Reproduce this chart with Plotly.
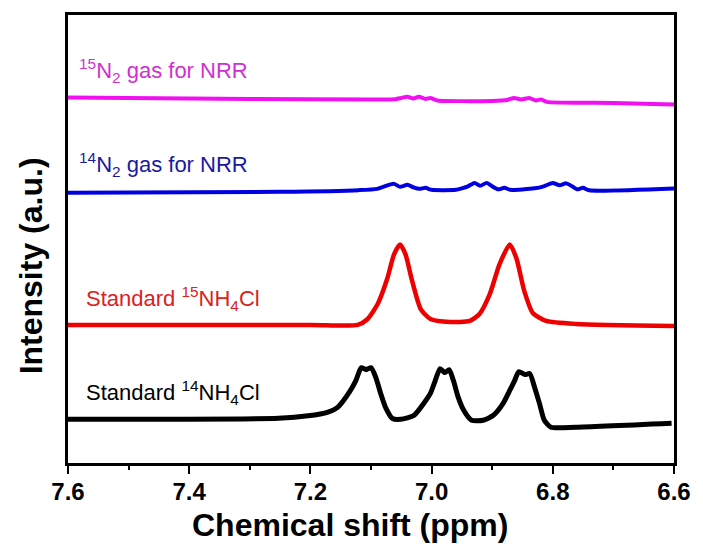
import plotly.graph_objects as go

# Chemical shift (ppm) and intensity (a.u., offset stacked)
mag_x = [7.60, 7.30, 7.10, 7.06, 7.05, 7.040, 7.03, 7.021, 7.01, 7.002, 6.99, 6.90, 6.875, 6.864, 6.852, 6.839, 6.828, 6.819, 6.81, 6.70, 6.60]
mag_y = [368, 366.5, 366, 366.2, 367.5, 368.7, 367, 368.7, 366.5, 367.5, 365, 364.5, 365.5, 367.5, 366, 367.5, 365, 366, 363.5, 362.5, 361]

blue_x = [7.60, 7.25, 7.12, 7.09, 7.075, 7.062, 7.052, 7.040, 7.030, 7.020, 7.010, 7.00, 6.96, 6.95, 6.94, 6.929, 6.92, 6.909, 6.90, 6.89, 6.88, 6.87, 6.83, 6.815, 6.800, 6.789, 6.778, 6.768, 6.76, 6.75, 6.74, 6.60]
blue_y = [272, 273, 274.7, 276, 279, 281, 278, 280, 277.5, 276, 277, 275, 275, 276.5, 278.5, 282, 279, 282, 278.5, 275.5, 277, 275, 276.5, 278.5, 282, 279.5, 281.5, 278.5, 275.5, 277, 274.5, 276.3]

red_x = [7.60, 7.20, 7.122, 7.106, 7.089, 7.073, 7.062, 7.052, 7.043, 7.032, 7.018, 7.002, 6.970, 6.937, 6.921, 6.904, 6.888, 6.871, 6.860, 6.847, 6.833, 6.811, 6.762, 6.60]
red_y = [139, 139, 139, 144.7, 160, 186, 210, 220, 210, 183, 155, 145, 142, 143, 150, 170, 200, 220, 206, 173, 151, 143, 140, 138]

blk_x = [7.60, 7.253, 7.204, 7.171, 7.155, 7.136, 7.125, 7.116, 7.108, 7.100, 7.092, 7.084, 7.076, 7.065, 7.051, 7.029, 7.013, 7.002, 6.994, 6.986, 6.978, 6.971, 6.964, 6.956, 6.947, 6.934, 6.915, 6.898, 6.882, 6.871, 6.863, 6.856, 6.846, 6.838, 6.830, 6.822, 6.814, 6.803, 6.762, 6.604]
blk_y = [44, 45, 47.5, 51.3, 56, 71, 83, 96, 94, 96, 86, 70, 56, 45, 44, 48, 60, 70, 83, 95, 91, 94, 83, 66, 53, 43, 43, 48, 60, 73, 83, 92, 89, 90, 76, 60, 43, 36, 36, 40]

x_ticks = [7.6, 7.4, 7.2, 7.0, 6.8, 6.6]
x_tick_labels = ["7.6", "7.4", "7.2", "7.0", "6.8", "6.6"]

labels = ["<sup>15</sup>N<sub>2</sub> gas for NRR", "<sup>14</sup>N<sub>2</sub> gas for NRR",
          "Standard <sup>15</sup>NH<sub>4</sub>Cl", "Standard <sup>14</sup>NH<sub>4</sub>Cl"]
label_x = [7.585, 7.585, 7.573, 7.573]
label_y = [395, 301, 166, 71]
line_colors = ["#F010F0", "#0000E0", "#EE0000", "#000000"]
text_colors = ["#D030D0", "#1A1AA0", "#DD2020", "#000000"]

FONT = "Liberation Sans, Arial, sans-serif"

fig = go.Figure()
series = [(mag_x, mag_y), (blue_x, blue_y), (red_x, red_y), (blk_x, blk_y)]
widths = [4, 4, 4.5, 5]
for (xs, ys), c, w in zip(series, line_colors, widths):
    fig.add_trace(go.Scatter(x=xs, y=ys, mode="lines",
                             line=dict(color=c, width=w, shape="spline", smoothing=0.6),
                             showlegend=False, hoverinfo="skip"))

for t, lx, ly, tc in zip(labels, label_x, label_y, text_colors):
    fig.add_annotation(x=lx, y=ly, xref="x", yref="y", text=t, showarrow=False,
                       xanchor="left", yanchor="middle",
                       font=dict(family=FONT, size=22, color=tc))

fig.add_annotation(x=0.466, y=-0.138, xref="paper", yref="paper",
                   text="Chemical shift (ppm)", showarrow=False,
                   xanchor="center", yanchor="middle",
                   font=dict(family=FONT, size=32, color="black", weight="bold"))
fig.add_annotation(x=-0.061, y=0.439, xref="paper", yref="paper",
                   text="Intensity (a.u.)", showarrow=False, textangle=-90,
                   xanchor="center", yanchor="middle",
                   font=dict(family=FONT, size=32, color="black", weight="bold"))

fig.update_layout(
    width=703, height=552,
    margin=dict(l=68, r=24, t=12, b=89),
    paper_bgcolor="white", plot_bgcolor="white",
    font=dict(family=FONT, color="black"),
)
fig.update_xaxes(range=[7.6, 6.6], tickvals=x_ticks, ticktext=x_tick_labels,
                 ticks="outside", ticklen=8, tickwidth=2, tickcolor="black",
                 minor=dict(dtick=0.1, ticks="outside", ticklen=4, tickwidth=2, tickcolor="black", showgrid=False),
                 tickfont=dict(family=FONT, size=24, color="black", weight="bold"),
                 ticklabelstandoff=-3,
                 showline=True, linewidth=3, linecolor="black", mirror=True,
                 showgrid=False, zeroline=False)
fig.update_yaxes(range=[0, 451], showticklabels=False, ticks="",
                 showline=True, linewidth=3, linecolor="black", mirror=True,
                 showgrid=False, zeroline=False)

fig.write_html("out.html")
